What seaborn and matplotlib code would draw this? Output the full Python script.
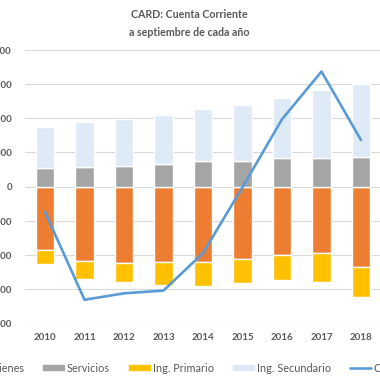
import numpy as np
import pandas as pd
import matplotlib
matplotlib.use("Agg")
import matplotlib.pyplot as plt
import seaborn as sns
from matplotlib.patches import Patch
from matplotlib.lines import Line2D
from matplotlib.ticker import FuncFormatter

years = ["2010", "2011", "2012", "2013", "2014", "2015", "2016", "2017", "2018"]
bienes = [-1853, -2176, -2255, -2225, -2206, -2118, -2010, -1961, -2353]
servicios = [550, 579, 608, 667, 738, 741, 833, 833, 873]
ing_primario = [-412, -540, -539, -667, -715, -697, -735, -833, -892]
ing_secundario = [1206, 1312, 1382, 1421, 1547, 1641, 1764, 1991, 2127]
cuenta_corriente = [-745, -3320, -3130, -3050, -1950, -20, 1970, 3370, 1360]
yticks = [-4000, -3000, -2000, -1000, 0, 1000, 2000, 3000, 4000]

title_lines = ["CARD: Cuenta Corriente", "a septiembre de cada año"]
labels = ["Bienes", "Servicios", "Ing. Primario", "Ing. Secundario", "Cuenta Corriente"]

c_bienes = "#ED7D31"
c_serv = "#A5A5A5"
c_prim = "#FFC000"
c_sec = "#DEEBF7"
c_line = "#5B9BD5"
txt = "#595959"

sns.set_theme(style="white")
plt.rcParams["font.family"] = ["Lato", "DejaVu Sans"]

fig = plt.figure(figsize=(3.8, 3.8), dpi=100)
ax = fig.add_axes([25.25 / 380, 1 - 323 / 380, 355.5 / 380, 273 / 380])

df = pd.DataFrame({"year": years, "bienes": bienes, "servicios": servicios,
                   "prim": ing_primario, "sec": ing_secundario, "cc": cuenta_corriente})

w = 0.48
sns.barplot(data=df, x="year", y="bienes", color=c_bienes, saturation=1, width=w, ax=ax)
sns.barplot(data=df, x="year", y="prim", bottom=df["bienes"], color=c_prim, saturation=1, width=w, ax=ax)
sns.barplot(data=df, x="year", y="servicios", color=c_serv, saturation=1, width=w, ax=ax)
sns.barplot(data=df, x="year", y="sec", bottom=df["servicios"], color=c_sec, saturation=1, width=w, ax=ax)

ax.set_ylim(-4000, 4000)
ax.set_xlim(-0.5, 8.5)
ax.set_yticks(yticks)
ax.yaxis.set_major_formatter(FuncFormatter(lambda v, p: f"{v:,.0f}"))
ax.grid(axis="y", color="#D9D9D9", linewidth=0.8)
ax.set_axisbelow(True)
for s in ax.spines.values():
    s.set_visible(False)
ax.set_xlabel("")
ax.set_ylabel("")
ax.tick_params(axis="both", length=0, colors=txt, labelsize=7)
ax.tick_params(axis="y", pad=9.5)
ax.tick_params(axis="x", pad=7)
for lab in ax.get_xticklabels() + ax.get_yticklabels():
    lab.set_fontweight("bold")

ax2 = ax.twinx()
sns.lineplot(x=np.arange(len(years)), y=df["cc"], color=c_line, linewidth=1.9, ax=ax2)
ax2.set_ylim(-4000, 4000)
ax2.set_xlim(-0.5, 8.5)
ax2.set_ylabel("")
ax2.tick_params(right=False, labelright=False, left=False, labelleft=False)
for s in ax2.spines.values():
    s.set_visible(False)

fig.text(189 / 380, 1 - 15 / 380, title_lines[0], ha="center", va="center",
         fontsize=7.7, fontweight="bold", color=txt)
fig.text(189 / 380, 1 - 32 / 380, title_lines[1], ha="center", va="center",
         fontsize=7.7, fontweight="bold", color=txt)

handles = [Patch(color=c_bienes), Patch(color=c_serv), Patch(color=c_prim), Patch(color=c_sec),
           Line2D([], [], color=c_line, linewidth=1.9)]
fig.legend(handles, labels, ncol=5, loc="center left", bbox_to_anchor=(-32 / 380, 1 - 368 / 380),
           frameon=False, fontsize=7.8, labelcolor=txt, handlelength=1.94, handleheight=0.4,
           handletextpad=0.28, columnspacing=1.75, borderpad=0, borderaxespad=0)

fig.savefig("out.png", dpi=100)
